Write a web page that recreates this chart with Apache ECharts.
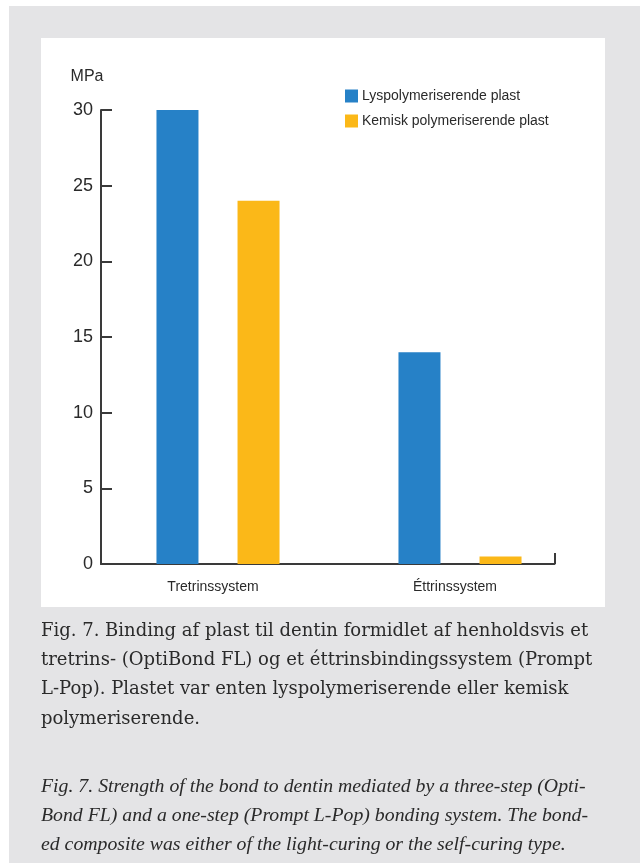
<!DOCTYPE html>
<html>
<head>
<meta charset="utf-8">
<script src="https://cdn.jsdelivr.net/npm/echarts@6/dist/echarts.min.js"></script>
<style>
html,body{margin:0;padding:0;background:#ffffff;}
#chart{width:640px;height:863px;}
</style>
</head>
<body>
<div id="chart"></div>
<script>
const categories = ['Tretrinssystem', 'Éttrinssystem'];
const seriesNames = ['Lyspolymeriserende plast', 'Kemisk polymeriserende plast'];
const lysValues = [30, 14];
const kemiskValues = [24, 0.5];
const yTicks = [0, 5, 10, 15, 20, 25, 30];
const yUnit = 'MPa';
const captionDa = [
  'Fig. 7. Binding af plast til dentin formidlet af henholdsvis et',
  'tretrins- (OptiBond FL) og et éttrinsbindingssystem (Prompt',
  'L-Pop). Plastet var enten lyspolymeriserende eller kemisk',
  'polymeriserende.'
];
const captionEn = [
  'Fig. 7. Strength of the bond to dentin mediated by a three-step (Opti-',
  'Bond FL) and a one-step (Prompt L-Pop) bonding system. The bond-',
  'ed composite was either of the light-curing or the self-curing type.'
];

const chart = echarts.init(document.getElementById('chart'), null, {renderer: 'canvas'});
const axisColor = '#3a3a3a';
const textColor = '#2a2a2a';
const sans = 'Liberation Sans, Arial, Helvetica, sans-serif';
const serif = 'Liberation Serif, Times New Roman, serif';
const serifWide = 'DejaVu Serif, serif';

const graphics = [
  {type: 'rect', shape: {x: 9, y: 6, width: 631, height: 857}, style: {fill: '#e4e4e6'}, z: -10, silent: true},
  {type: 'rect', shape: {x: 41, y: 38, width: 564, height: 569}, style: {fill: '#ffffff'}, z: -9, silent: true},
  {type: 'text', x: 87, y: 77, style: {text: yUnit, font: '16px ' + sans, fill: textColor, textAlign: 'center', textVerticalAlign: 'middle'}}
];
captionDa.forEach((t, i) => {
  graphics.push({type: 'text', x: 41, y: 631 + i * 29.3, style: {text: t, font: '18px ' + serifWide, fill: textColor, textAlign: 'left', textVerticalAlign: 'middle'}});
});
captionEn.forEach((t, i) => {
  graphics.push({type: 'text', x: 41, y: 787 + i * 29, style: {text: t, font: 'italic 19.8px ' + serif, fill: textColor, textAlign: 'left', textVerticalAlign: 'middle'}});
});

const option = {
  animation: false,
  backgroundColor: 'transparent',
  graphic: graphics,
  legend: {
    orient: 'vertical',
    left: 340,
    top: 84,
    itemWidth: 13,
    itemHeight: 13,
    itemGap: 11,
    icon: 'rect',
    textStyle: {fontSize: 14, color: textColor, fontFamily: sans, padding: [0, 0, 0, -1]},
    data: seriesNames
  },
  grid: [
    {left: 97, width: 484, top: 110, height: 454},
    {left: 101, width: 453.5, top: 110, height: 454}
  ],
  xAxis: [
    {
      type: 'category', gridIndex: 0, data: categories,
      axisLine: {show: false}, axisTick: {show: false},
      axisLabel: {fontSize: 14, color: textColor, fontFamily: sans, margin: 16, padding: [0, 10, 0, 0]}
    },
    {
      type: 'value', gridIndex: 1, min: 0, max: 1, interval: 1,
      axisLine: {show: true, lineStyle: {color: axisColor, width: 2}},
      axisTick: {show: true, inside: true, length: 11, lineStyle: {color: axisColor, width: 2}},
      axisLabel: {show: false}, splitLine: {show: false}
    }
  ],
  yAxis: [
    {type: 'value', gridIndex: 0, min: 0, max: 30, interval: 5, show: false, splitLine: {show: false}},
    {
      type: 'value', gridIndex: 1, min: 0, max: 30, interval: 5,
      axisLine: {show: true, lineStyle: {color: axisColor, width: 2}},
      axisTick: {show: true, inside: true, length: 11, lineStyle: {color: axisColor, width: 2}},
      axisLabel: {fontSize: 18, color: textColor, fontFamily: sans, margin: 8,
        formatter: v => yTicks.includes(v) ? String(v) : ''},
      splitLine: {show: false}
    }
  ],
  series: [
    {name: seriesNames[0], type: 'bar', xAxisIndex: 0, yAxisIndex: 0, data: lysValues,
      barWidth: 42, barGap: '93%', itemStyle: {color: '#2681c7'}},
    {name: seriesNames[1], type: 'bar', xAxisIndex: 0, yAxisIndex: 0, data: kemiskValues,
      barWidth: 42, barGap: '93%', itemStyle: {color: '#fbb818'}}
  ]
};
chart.setOption(option);
</script>
</body>
</html>
